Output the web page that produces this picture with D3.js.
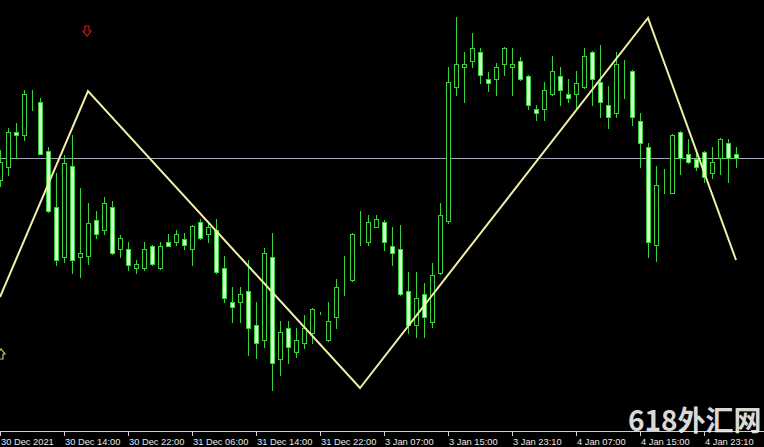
<!DOCTYPE html>
<html><head><meta charset="utf-8">
<script src="https://cdn.jsdelivr.net/npm/d3@7"></script>
<style>html,body{margin:0;padding:0;background:#000;overflow:hidden}</style>
</head><body>
<svg id="chart" width="764" height="447"></svg>
<script>
// H1 candles, price in points (relative level)
const openP  = [251,264,299,296,333,329,280,224,174,265,174,175,211,201,224,182,182,163,163,185,163,189,189,192,182,209,197,201,163,129,129,140,106,91,174,72,103,79,88,98,118,91,114,148,151,193,189,204,209,185,182,140,106,137,109,158,210,344,364,370,379,352,352,367,364,370,355,322,322,337,355,337,337,344,379,349,326,318,364,360,310,284,186,242,238,299,277,272,279,258,273,288,277];
const highP  = [281,303,308,341,341,333,284,258,276,296,243,228,220,234,230,196,189,171,189,186,189,197,201,198,206,212,208,212,175,144,144,171,129,183,198,110,110,103,116,123,119,129,152,175,198,220,216,216,211,204,206,159,159,148,168,228,364,414,379,398,383,359,368,384,383,374,356,326,349,375,364,352,360,383,380,386,345,379,371,361,318,288,265,262,297,300,292,278,280,284,293,292,284];
const lowP   = [245,256,273,291,321,277,219,166,169,158,154,167,193,197,177,174,161,158,161,166,162,185,186,182,166,192,189,158,129,109,109,76,73,84,41,56,68,74,83,88,117,90,103,136,150,186,186,204,181,166,136,98,94,94,104,157,208,336,329,364,348,340,336,356,336,351,322,311,311,336,326,329,322,343,326,314,303,314,333,306,264,174,170,238,238,257,268,261,249,253,257,249,264];
const closeP = [269,299,296,337,333,277,220,171,268,171,178,208,197,228,178,193,166,167,182,167,185,185,197,186,205,193,204,159,133,124,137,103,88,178,68,99,84,91,103,122,118,110,144,148,197,193,209,212,189,178,137,106,133,114,156,216,349,367,367,383,356,348,364,383,367,352,326,318,341,360,341,333,348,375,352,329,314,367,364,314,288,189,246,242,296,273,269,264,254,269,292,273,273];
// ZigZag turning points (bar index, price)
const zzIndex = [0, 11, 45, 81, 92];
const zzPrice = [134, 340, 43, 413, 171];
// horizontal line level
const hLevel = 273;
// time-axis labels every 8 bars
const tickIndex = [0, 8, 16, 24, 32, 40, 48, 56, 64, 72, 80, 88];
const tickLabels = ["30 Dec 2021","30 Dec 14:00","30 Dec 22:00","31 Dec 06:00","31 Dec 14:00","31 Dec 22:00","3 Jan 07:00","3 Jan 15:00","3 Jan 23:10","4 Jan 07:00","4 Jan 15:00","4 Jan 23:10"];
// arrow markers
const arrowDown = {index: 11, price: 400};
const arrowUp = {index: 0, price: 77};

const W = 764, H = 447, plotBottom = 431;
const svg = d3.select("#chart");
svg.append("rect").attr("width", W).attr("height", H).attr("fill", "#000");

const x = d3.scaleLinear().domain([0, 1]).range([0, 8]);
const y = d3.scaleLinear().domain([0, 431]).range([plotBottom, 0]);

const data = openP.map((o, i) => ({i, o, h: highP[i], l: lowP[i], c: closeP[i]}));

// horizontal line
svg.append("line").attr("x1", 0).attr("x2", W)
  .attr("y1", Math.round(y(hLevel)) + 0.5).attr("y2", Math.round(y(hLevel)) + 0.5)
  .attr("stroke", "#a4a8b8").attr("stroke-width", 1);

const green = "#3ad23a";
const g = svg.append("g").attr("shape-rendering", "crispEdges");
// wicks
g.selectAll("line.wick").data(data).join("line").attr("class", "wick")
  .attr("x1", d => x(d.i) + 0.5).attr("x2", d => x(d.i) + 0.5)
  .attr("y1", d => Math.round(y(d.h))).attr("y2", d => Math.round(y(d.l)) + 1)
  .attr("stroke", green).attr("stroke-width", 1);
// bodies
g.selectAll("rect.body").data(data).join("rect").attr("class", "body")
  .attr("x", d => x(d.i) - 1.5)
  .attr("y", d => Math.round(y(Math.max(d.o, d.c))) + 0.5)
  .attr("width", 4)
  .attr("height", d => Math.max(0, Math.round(y(Math.min(d.o, d.c))) - Math.round(y(Math.max(d.o, d.c)))))
  .attr("fill", d => d.c < d.o ? "#d2ffd0" : "#000")
  .attr("stroke", green).attr("stroke-width", 1);

// zigzag
const zz = zzIndex.map((k, j) => [x(k), y(zzPrice[j])]);
svg.append("path").attr("d", d3.line()(zz)).attr("fill", "none")
  .attr("stroke", "#f2f0a8").attr("stroke-width", 2).attr("stroke-linejoin", "miter");

// arrows
function arrowPath(cx, cy, dir) {
  const s = dir;
  const pts = [[-2, -5], [2, -5], [2, 0], [4, 0], [0, 5], [-4, 0], [-2, 0]];
  return "M" + pts.map(p => [cx + p[0], cy + p[1] * s].join(",")).join("L") + "Z";
}
svg.append("path").attr("d", arrowPath(x(arrowDown.index) - 1, y(arrowDown.price), 1))
  .attr("fill", "none").attr("stroke", "#c81818").attr("stroke-width", 1.2);
svg.append("path").attr("d", arrowPath(x(arrowUp.index) + 1, y(arrowUp.price), -1))
  .attr("fill", "none").attr("stroke", "#c8c860").attr("stroke-width", 1.2);

// time axis
svg.append("line").attr("x1", 0).attr("x2", W).attr("y1", plotBottom + 0.5).attr("y2", plotBottom + 0.5)
  .attr("stroke", "#d0d0d0").attr("stroke-width", 1).attr("shape-rendering", "crispEdges");
const ax = svg.append("g");
ax.selectAll("line").data(tickIndex).join("line")
  .attr("x1", d => x(d) + 0.5).attr("x2", d => x(d) + 0.5)
  .attr("y1", plotBottom).attr("y2", plotBottom + 5)
  .attr("stroke", "#d0d0d0").attr("shape-rendering", "crispEdges");
ax.selectAll("text").data(tickIndex).join("text")
  .attr("x", d => x(d) + 1).attr("y", 445)
  .attr("fill", "#e8e8e8").attr("font-family", "'Liberation Sans', Arial, sans-serif")
  .attr("font-size", "9.3px").text((d, j) => tickLabels[j]);

// watermark
svg.append("text").attr("x", 628).attr("y", 431)
  .attr("fill", "#f0f0f0").attr("fill-opacity", 0.92)
  .attr("font-family", "'Noto Sans CJK SC', sans-serif").attr("font-size", "28px")
  .attr("font-weight", "bold")
  .text("618外汇网");
</script>
</body></html>
